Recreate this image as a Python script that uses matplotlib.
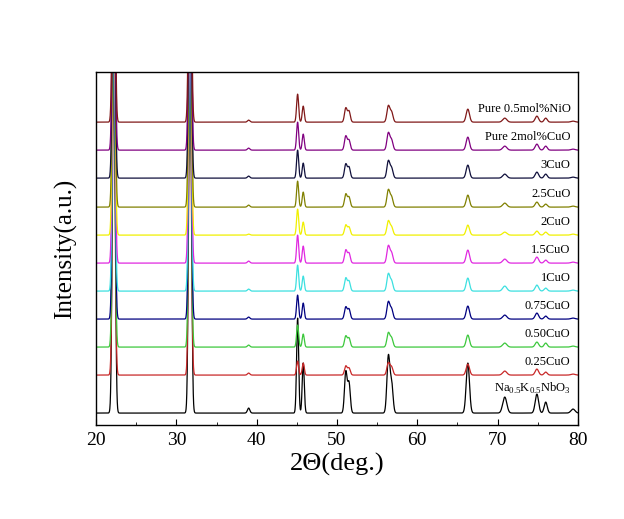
import numpy as np
import matplotlib.pyplot as plt
from matplotlib.ticker import MultipleLocator

plt.rcParams['font.family'] = ['Liberation Serif', 'DejaVu Serif']
plt.rcParams['mathtext.fontset'] = 'custom'
plt.rcParams['mathtext.rm'] = 'Liberation Serif'

# samples from bottom to top
samples = ['Na$_{0.5}$K$_{0.5}$NbO$_3$', '0.25CuO', '0.50CuO', '0.75CuO', '1CuO',
           '1.5CuO', '2CuO', '2.5CuO', '3CuO', 'Pure 2mol%CuO', 'Pure 0.5mol%NiO']
colors = ['#000000', '#c82828', '#3cc83c', '#000080', '#3ce0e0',
          '#e028e0', '#f0f000', '#808000', '#10103c', '#800080', '#801818']
# vertical shift of each pattern (a.u.)
offsets = [12, 50, 78, 106, 134, 162, 190, 218, 247, 275, 303]

# reflections, 2theta (deg.) and FWHM (deg.)
peak_pos = [22.2, 31.7, 39.0, 45.1, 45.8, 51.1, 51.5, 56.4, 56.8, 66.3, 70.9, 74.9, 76.0, 79.4]
peak_fwhm = [0.38, 0.38, 0.35, 0.30, 0.30, 0.38, 0.38, 0.42, 0.42, 0.48, 0.60, 0.50, 0.45, 0.60]

# peak heights of each pattern (a.u.), same order as peak_pos
h_knn = [450, 450, 5, 95, 50, 41, 30, 56, 30, 50, 16, 19, 11, 4]
h_025 = [300, 300, 2, 14, 12, 9, 7, 12, 8, 11, 4, 6, 3, 1]
h_050 = [300, 300, 2, 22, 13, 11, 9, 14, 9, 12, 4, 5, 4, 1]
h_075 = [300, 300, 2, 24, 16, 12, 10, 17, 10, 13, 4, 6, 3, 1]
h_100 = [300, 300, 2, 26, 15, 13, 10, 17, 10, 13, 5, 6, 3, 1]
h_150 = [300, 300, 2, 28, 17, 13, 10, 17, 10, 13, 4, 6, 3, 1]
h_200 = [300, 300, 1, 26, 13, 10, 8, 14, 8, 10, 3, 4, 3, 1]
h_250 = [300, 300, 2, 26, 15, 13, 10, 17, 10, 12, 4, 5, 3, 1]
h_300 = [300, 300, 2, 28, 15, 14, 11, 17, 10, 13, 4, 6, 4, 1]
h_pure2 = [300, 300, 2, 28, 16, 14, 10, 17, 10, 13, 4, 6, 4, 1]
h_pure05 = [300, 300, 2, 28, 16, 14, 11, 16, 10, 13, 4, 6, 4, 1]
heights = [h_knn, h_025, h_050, h_075, h_100, h_150, h_200, h_250, h_300, h_pure2, h_pure05]


def pattern(x, h):
    """
    Builds a diffraction pattern from the peak list
    """
    y = np.zeros_like(x)
    for pos, w, a in zip(peak_pos, peak_fwhm, h):
        s = w / 2.355
        y += a * np.exp(-0.5 * ((x - pos) / s) ** 2)
    return y


x = np.linspace(20, 80, 4001)

fig = plt.figure(figsize=(6.24, 5.19), dpi=100)
ax = fig.add_axes([0.154, 0.181, 0.772, 0.680])

for name, col, off, h in zip(samples, colors, offsets, heights):
    ax.plot(x, off + pattern(x, h), color=col, linewidth=0.9)
    dy = 25 if off == offsets[0] else 13
    ax.text(79.1, off + dy, name, ha='right', va='center', fontsize=9)

ax.set_xlim(20, 80)
ax.set_ylim(0, 353)
ax.xaxis.set_major_locator(MultipleLocator(10))
ax.xaxis.set_minor_locator(MultipleLocator(5))
ax.tick_params(axis='x', which='major', direction='in', length=4.5, labelsize=14, pad=5)
ax.tick_params(axis='x', which='minor', direction='in', length=2.5)
ax.set_yticks([])
for sp in ax.spines.values():
    sp.set_linewidth(1.0)

ax.set_xlabel('2\u0398(deg.)', fontsize=19, labelpad=3)
ax.set_ylabel('Intensity(a.u.)', fontsize=18, labelpad=14)

fig.savefig('out.png', dpi=100)
